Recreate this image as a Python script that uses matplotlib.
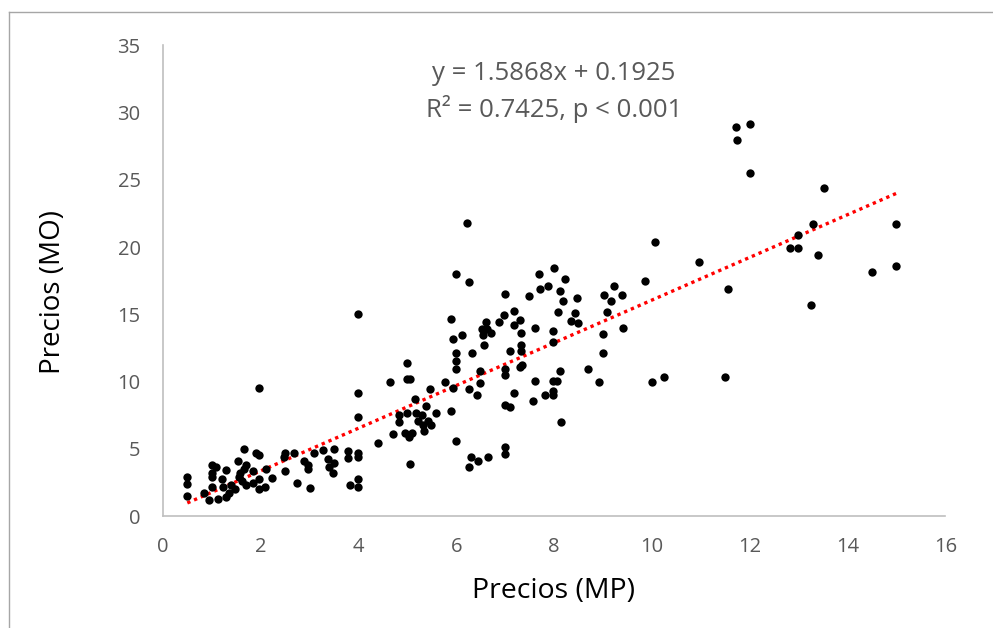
import matplotlib
matplotlib.use("Agg")
from matplotlib import pyplot as plt
from matplotlib.lines import Line2D
import numpy as np

# precios MP (x) y MO (y)
mp = [0.5, 0.5, 0.5, 0.85, 0.94, 1.0, 1.0, 1.0, 1.0, 1.09, 1.13, 1.2, 1.22, 1.3, 1.3,
      1.35, 1.39, 1.48, 1.53, 1.56, 1.58, 1.62, 1.65, 1.66, 1.69, 1.71, 1.84, 1.84,
      1.91, 1.97, 1.97, 1.97, 1.97, 2.08, 2.1, 2.23, 2.47, 2.49, 2.49, 2.69, 2.75,
      2.88, 2.97, 2.97, 3.0, 3.1, 3.27, 3.38, 3.4, 3.47, 3.5, 3.5, 3.79, 3.79, 3.82,
      3.99, 3.99, 3.99, 3.99, 3.99, 3.99, 3.99, 4.4, 4.64, 4.7, 4.83, 4.83, 4.96,
      4.99, 4.99, 5.06, 4.99, 5.03, 5.05, 5.09, 5.16, 5.17, 5.22, 5.29, 5.32, 5.35,
      5.38, 5.42, 5.47, 5.48, 5.58, 5.77, 5.9, 5.9, 5.94, 5.94, 6.0, 5.99, 6.0, 6.0,
      6.0, 6.12, 6.22, 6.25, 6.25, 6.25, 6.3, 6.32, 6.42, 6.45, 6.49, 6.49, 6.52,
      6.55, 6.57, 6.6, 6.62, 6.65, 6.71, 6.88, 6.97, 7.0, 7.0, 7.0, 7.0, 7.0, 7.0,
      7.1, 7.1, 7.17, 7.17, 7.17, 7.3, 7.32, 7.32, 7.32, 7.3, 7.35, 7.49, 7.56, 7.6,
      7.6, 7.69, 7.71, 7.82, 7.88, 7.97, 7.97, 7.97, 7.97, 7.97, 8.0, 8.05, 8.08,
      8.12, 8.12, 8.14, 8.19, 8.22, 8.34, 8.42, 8.47, 8.49, 8.7, 8.92, 8.99, 8.99,
      9.03, 9.08, 9.17, 9.22, 9.38, 9.4, 9.86, 10.0, 10.06, 10.25, 10.97, 11.49,
      11.55, 11.71, 11.74, 12.0, 12.0, 12.82, 12.99, 12.99, 13.25, 13.3, 13.4, 13.51,
      14.51, 15.0, 15.0]
mo = [2.94, 2.38, 1.49, 1.75, 1.19, 3.78, 3.18, 2.94, 2.2, 3.63, 1.25, 2.74, 2.14,
      3.42, 1.4, 1.7, 2.29, 2.0, 4.13, 2.88, 3.18, 2.59, 3.48, 4.97, 3.84, 2.29, 3.33,
      2.44, 4.73, 4.52, 9.5, 2.74, 2.05, 2.14, 3.54, 2.82, 4.43, 4.67, 3.39, 4.67,
      2.44, 4.07, 3.78, 3.48, 2.08, 4.67, 4.9, 4.22, 3.63, 3.18, 5.03, 3.93, 4.82,
      4.31, 2.29, 4.67, 4.43, 2.74, 2.2, 15.0, 9.13, 7.34, 5.41, 9.99, 6.1, 7.49,
      6.99, 6.21, 11.42, 10.17, 10.17, 7.64, 5.86, 3.87, 6.21, 8.74, 7.7, 7.05, 7.55,
      6.75, 6.3, 8.18, 7.1, 9.43, 6.81, 7.64, 9.99, 7.85, 14.69, 13.2, 9.5, 5.62,
      17.99, 12.16, 11.57, 10.97, 13.44, 21.8, 17.4, 9.49, 3.69, 4.37, 12.1, 8.98,
      4.13, 9.87, 10.76, 13.89, 13.44, 12.76, 14.42, 13.89, 4.37, 13.65, 14.42, 14.93,
      16.5, 10.97, 10.47, 8.3, 5.11, 4.61, 12.25, 8.09, 15.22, 14.24, 9.13, 14.57,
      13.59, 12.76, 12.25, 11.12, 11.21, 16.35, 8.53, 13.95, 10.02, 17.99, 16.86,
      8.98, 17.1, 13.74, 12.94, 10.02, 9.28, 8.98, 18.44, 10.02, 15.14, 16.77, 10.76,
      6.99, 15.97, 17.63, 14.48, 15.08, 16.2, 14.39, 10.91, 9.99, 13.53, 12.16, 16.41,
      15.17, 15.97, 17.13, 16.41, 13.95, 17.51, 9.99, 20.34, 10.38, 18.88, 10.32,
      16.92, 28.9, 27.98, 29.11, 25.48, 19.92, 19.92, 20.87, 15.73, 21.71, 19.39,
      24.41, 18.14, 21.68, 18.61]

slope = 1.5868
intercept = 0.1925
x_ticks = [0, 2, 4, 6, 8, 10, 12, 14, 16]
y_ticks = [0, 5, 10, 15, 20, 25, 30, 35]

plt.rcParams["font.family"] = ["Open Sans", "DejaVu Sans"]

fig = plt.figure(figsize=(9.93, 6.28), dpi=100)
ax = fig.add_axes([0.164, 0.178, 0.788, 0.75])

ax.scatter(mp, mo, s=36, color="black", zorder=3, linewidths=0)
xs = np.array([min(mp), max(mp)])
ax.plot(xs, slope * xs + intercept, color="#ff0000", linestyle=(0, (1, 1.2)),
        linewidth=2.4, zorder=2)

ax.set_xlim(0, 16)
ax.set_ylim(0, 35)
ax.set_xticks(x_ticks)
ax.set_yticks(y_ticks)
ax.tick_params(length=0, labelsize=14.5, labelcolor="#595959")
ax.tick_params(axis="x", pad=15)
ax.tick_params(axis="y", pad=16)
for side in ["top", "right"]:
    ax.spines[side].set_visible(False)
for side in ["left", "bottom"]:
    ax.spines[side].set_color("#bfbfbf")
    ax.spines[side].set_linewidth(1.2)

ax.set_xlabel("Precios (MP)", fontsize=20.5)
ax.set_ylabel("Precios (MO)", fontsize=20)
ax.xaxis.set_label_coords(0.499, -0.13)
ax.yaxis.set_label_coords(-0.123, 0.476)

ax.text(0.5, 0.94, "y = 1.5868x + 0.1925", transform=ax.transAxes, ha="center",
        va="center", fontsize=18.5, color="#595959")
ax.text(0.5, 0.865, "R² = 0.7425, p < 0.001", transform=ax.transAxes, ha="center",
        va="center", fontsize=18.5, color="#595959")

# marco exterior
fig.add_artist(Line2D([9 / 993, 9 / 993], [0, 1 - 12 / 628], color="#a6a6a6", linewidth=1))
fig.add_artist(Line2D([9 / 993, 1], [1 - 12 / 628, 1 - 12 / 628], color="#a6a6a6", linewidth=1))

fig.savefig("out.png", dpi=100)
